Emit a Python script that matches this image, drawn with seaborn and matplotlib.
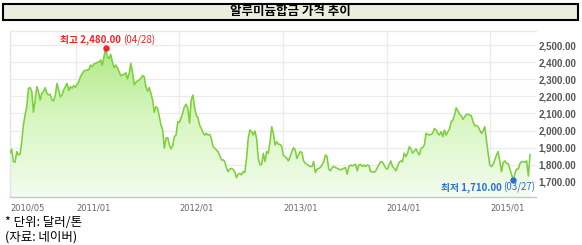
import numpy as np
import pandas as pd
import matplotlib
matplotlib.use("Agg")
import matplotlib.pyplot as plt
import matplotlib.dates as mdates
from matplotlib.colors import LinearSegmentedColormap
from matplotlib.patches import Rectangle
import seaborn as sns

# ---------------- data ----------------
title = "알루미늄합금 가격 추이"
start_date = "2010-05-13"
end_date = "2015-05-22"
price = [
    1868, 1891, 1819, 1815, 1877, 1858, 1862, 1935, 2033, 2091, 2140, 2247, 2251, 2228, 2107,
    2179, 2257, 2228, 2179, 2218, 2228, 2251, 2218, 2208, 2212, 2179, 2173, 2208, 2276,
    2238, 2198, 2208, 2238, 2257, 2276, 2234, 2257, 2247, 2263, 2253, 2270, 2286, 2315, 2331, 2348,
    2352, 2354, 2356, 2383, 2374, 2389, 2393, 2399, 2399, 2413, 2383, 2432, 2480,
    2432, 2422, 2446, 2403, 2368, 2383, 2368, 2344, 2321, 2325, 2329, 2338, 2302, 2334, 2393, 2344,
    2267, 2282, 2290, 2296, 2305, 2321, 2315, 2257, 2231, 2251, 2218, 2179, 2107, 2140, 2130, 2081,
    2033, 2004, 1897, 1955, 1959, 1916, 1893, 1912, 1965, 1974, 2052, 2048, 2072, 2107, 2140, 2154,
    2130, 2044,
    2179, 2208, 2140, 2091, 2076, 2033, 2013, 1990, 1974, 1984, 1974, 1978, 1955, 1906, 1897, 1887,
    1877, 1854, 1829, 1829, 1819, 1784, 1760, 1775, 1779, 1773, 1760, 1725, 1745, 1751, 1741, 1760,
    1756, 1838, 1955, 2004, 1994, 1974, 1998, 1955, 1838, 1799, 1803, 1868, 1819, 1877, 1868, 1935,
    2023, 1984, 1916, 1935, 1920, 1920, 1906, 1854, 1848, 1838, 1823, 1848, 1877, 1900, 1887, 1838,
    1858,
    1877, 1873, 1823, 1809, 1803, 1795, 1790, 1790, 1819,
    1755, 1775, 1779, 1784, 1799, 1819, 1858, 1848, 1775, 1765, 1784, 1790, 1784, 1780, 1775, 1771,
    1775, 1780, 1784, 1745, 1790, 1799, 1793, 1799, 1803, 1765, 1799, 1803, 1790, 1799, 1790, 1799,
    1795, 1760, 1760, 1756, 1765, 1784, 1803, 1819, 1815, 1799, 1780, 1775, 1799,
    1823, 1790, 1780, 1765,
    1790, 1815, 1823, 1819, 1868, 1848, 1868, 1906, 1893, 1868, 1881, 1893, 1873, 1858, 1897, 1900,
    1916, 1984, 1978, 1974, 1978, 1984, 2013, 2004, 1984, 1974, 1994, 1965, 2004, 1974, 1994, 2009,
    2052, 2062, 2091, 2134, 2114, 2095, 2087, 2066, 2081, 2095, 2095, 2091, 2087, 2052, 2029, 2029,
    2023, 2004, 1984, 1998, 2023, 1945, 1868, 1799, 1790, 1803, 1829, 1858, 1877, 1819, 1760, 1813,
    1823, 1807, 1807, 1775, 1745,
    1710, 1752, 1775, 1775, 1809, 1819, 1819, 1815, 1823, 1735, 1862,
]
y_ticks = [1700, 1800, 1900, 2000, 2100, 2200, 2300, 2400, 2500]
x_tick_dates = ["2011-01-01", "2012-01-01", "2013-01-01", "2014-01-01", "2015-01-01"]
x_tick_labels = ["2010/05", "2011/01", "2012/01", "2013/01", "2014/01", "2015/01"]
max_label = ("최고 2,480.00", "(04/28)")
min_label = ("최저 1,710.00", "(03/27)")
notes = ["* 단위: 달러/톤", "(자료: 네이버)"]

dates = pd.date_range(start_date, end_date, periods=len(price))
df = pd.DataFrame({"date": dates, "price": price})

# ---------------- style ----------------
sns.set_theme(style="white")
plt.rcParams["font.family"] = ["Noto Sans CJK KR", "DejaVu Sans"]

W, H = 582, 245
fig = plt.figure(figsize=(W / 100, H / 100), dpi=100)
fig.patch.set_facecolor("white")

L, R, T, B = 10, 536, 31, 197
ax = fig.add_axes([L / W, 1 - B / H, (R - L) / W, (B - T) / H])
ax.set_facecolor("white")

x0 = pd.Timestamp(start_date)
x1 = pd.Timestamp(end_date) + pd.Timedelta(days=21)
ylo, yhi = 1612, 2582

# grid
for v in y_ticks:
    ax.axhline(v, color="#ebebeb", lw=0.9, zorder=0)
for d in x_tick_dates:
    ax.axvline(pd.Timestamp(d), color="#ebebeb", lw=0.9, zorder=0)

# gradient fill under line
poly = ax.fill_between(df["date"], df["price"], ylo, color="none", lw=0)
cmap = LinearSegmentedColormap.from_list("g", ["#f3fcee", "#d6f6bf", "#a6e578"])
grad = np.linspace(0, 1, 256).reshape(-1, 1)
xn0, xn1 = mdates.date2num(x0), mdates.date2num(x1)
im = ax.imshow(grad, extent=[xn0, xn1, ylo, yhi], origin="lower", aspect="auto",
               cmap=cmap, zorder=1)
im.set_clip_path(poly.get_paths()[0], transform=ax.transData)

sns.lineplot(data=df, x="date", y="price", ax=ax, color="#7dd03c", lw=1.15, zorder=3)
ax.set_xlim(x0, x1)
ax.set_ylim(ylo, yhi)

# spines
ax.spines["right"].set_visible(False)
ax.spines["top"].set_color("#ebebeb")
ax.spines["left"].set_color("#e4e4e4")
ax.spines["bottom"].set_color("#c8c8c8")
for s in ["top", "left", "bottom"]:
    ax.spines[s].set_linewidth(1)

# ticks
ax.yaxis.tick_right()
ax.set_yticks(y_ticks)
ax.set_yticklabels([f"{v:,.2f}" for v in y_ticks], fontfamily="Liberation Sans",
                   fontweight="bold", fontsize=7, color="#555555")
ax.tick_params(axis="y", length=0, pad=2)
xt = [x0] + [pd.Timestamp(d) for d in x_tick_dates]
ax.set_xticks(xt)
ax.set_xticklabels(x_tick_labels, fontfamily="DejaVu Sans", fontsize=6, color="#666666",
                   ha="left")
ax.tick_params(axis="x", length=3, width=0.8, color="#c8c8c8", pad=2)
ax.set_xlabel("")
ax.set_ylabel("")

# max/min markers
imax = int(np.argmax(price))
imin = int(np.argmin(price))
red, blue = "#ff2020", "#2a6fd6"
ax.plot(dates[imax], price[imax], "o", color=red, ms=3.6, zorder=5)
ax.plot(dates[imin], price[imin], "o", color=blue, ms=3.6, zorder=5)
pt = 0.72
ax.annotate(max_label[0], (dates[imax], price[imax]), xytext=(15 * pt, 8.5 * pt),
            textcoords="offset points", ha="right", va="center", fontsize=7,
            fontweight="bold", color=red, zorder=6)
ax.annotate(max_label[1], (dates[imax], price[imax]), xytext=(18 * pt, 8.5 * pt),
            textcoords="offset points", ha="left", va="center", fontsize=7,
            color=red, zorder=6)
ax.annotate(min_label[0], (dates[imin], price[imin]), xytext=(-12 * pt, -7.5 * pt),
            textcoords="offset points", ha="right", va="center", fontsize=7,
            fontweight="bold", color=blue, zorder=6, annotation_clip=False)
ax.annotate(min_label[1], (dates[imin], price[imin]), xytext=(-10 * pt, -7.5 * pt),
            textcoords="offset points", ha="left", va="center", fontsize=7,
            color=blue, zorder=6, annotation_clip=False)

# title box
fig.patches.append(Rectangle((3 / W, 1 - 20 / H), 575 / W, 16 / H, transform=fig.transFigure,
                             facecolor="#ebeedd", edgecolor="black", lw=1.5))
fig.text(290.5 / W, 1 - 12 / H, title, ha="center", va="center", fontsize=9,
         fontweight="bold", color="black")

# notes
fig.text(5 / W, 1 - 222 / H, notes[0], ha="left", va="center", fontsize=9, color="black")
fig.text(5 / W, 1 - 237 / H, notes[1], ha="left", va="center", fontsize=9, color="black")

fig.savefig("out.png", dpi=100, facecolor="white")
